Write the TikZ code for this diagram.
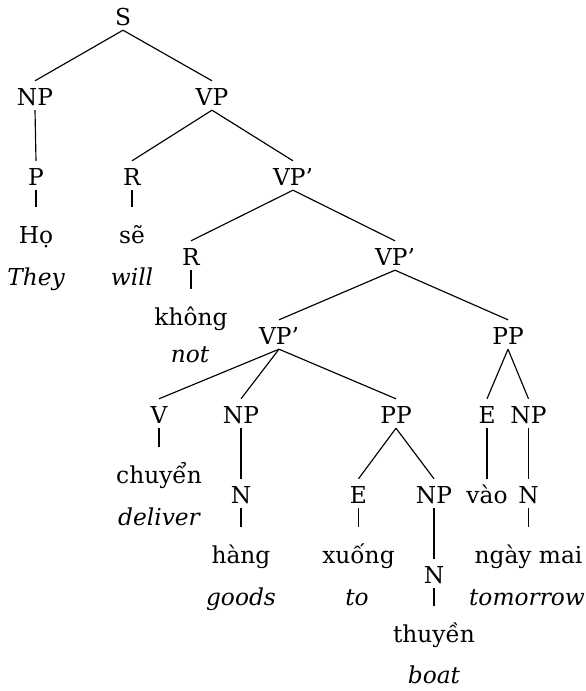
\documentclass[tikz,border=0pt]{standalone}
\usepackage{fontspec}
\setmainfont{DejaVu Serif}
\begin{document}
\begin{tikzpicture}[x=1pt,y=-1pt,
  every node/.style={font=\fontsize{23.3}{28}\selectfont, inner sep=0pt, anchor=base},
  cat/.style={text height=24pt, text depth=5pt},
  word/.style={text height=36pt, text depth=5pt},
  gloss/.style={font=\fontsize{23.3}{28}\selectfont\itshape},
  edge/.style={line width=1.15pt}]
\useasboundingbox (0,0) rectangle (586,691);
% categories
\node[cat] (S) at (123,25) {S};
\node[cat] (NP1) at (35,105) {NP};
\node[cat] (VP1) at (212,105) {VP};
\node[cat] (P) at (36,185) {P};
\node[cat] (R1) at (132,185) {R};
\node[cat] (VPa) at (293,185) {VP’};
\node[cat] (R2) at (191,265) {R};
\node[cat] (VPb) at (395,265) {VP’};
\node[cat] (VPc) at (279,344) {VP’};
\node[cat] (PPr) at (508,344) {PP};
\node[cat] (V) at (159,423) {V};
\node[cat] (NPm) at (241,423) {NP};
\node[cat] (PPm) at (396,423) {PP};
\node[cat] (Er) at (487,423) {E};
\node[cat] (NPr) at (528.5,423) {NP};
\node[cat] (Nm) at (241,503) {N};
\node[cat] (Em) at (358.5,503) {E};
\node[cat] (NPt) at (434,503) {NP};
\node[cat] (vao) at (487,503) {vào};
\node[cat] (Nr) at (528.5,503) {N};
\node[cat] (Nt) at (434,583) {N};
% words
\node[word] (ho) at (36,243) {Họ};
\node[gloss] (they) at (36,285) {They};
\node[word] (se) at (132,243) {sẽ};
\node[gloss] (will) at (132,285) {will};
\node[word] (khong) at (191,325) {không};
\node[gloss] (not) at (190,362) {not};
\node[word] (chuyen) at (159,483) {chuyển};
\node[gloss] (deliver) at (159,525) {deliver};
\node[word] (hang) at (241,563) {hàng};
\node[gloss] (goods) at (241,605) {goods};
\node[word] (xuong) at (358.5,563) {xuống};
\node[gloss] (to) at (357,605) {to};
\node[word] (ngay) at (528.5,563) {ngày mai};
\node[gloss] (tomorrow) at (527,605) {tomorrow};
\node[word] (thuyen) at (434,642) {thuyền};
\node[gloss] (boat) at (434,683) {boat};
% edges
\foreach \a/\b in {S/NP1,S/VP1,NP1/P,VP1/R1,VP1/VPa,P/ho,R1/se,VPa/R2,VPa/VPb,
  R2/khong,VPb/VPc,VPb/PPr,VPc/V,VPc/NPm,VPc/PPm,PPr/Er,PPr/NPr,V/chuyen,
  NPm/Nm,Nm/hang,PPm/Em,PPm/NPt,Em/xuong,NPt/Nt,Nt/thuyen,Er/vao,NPr/Nr,Nr/ngay}
  \draw[edge] (\a.south) -- (\b.north);
\end{tikzpicture}
\end{document}
